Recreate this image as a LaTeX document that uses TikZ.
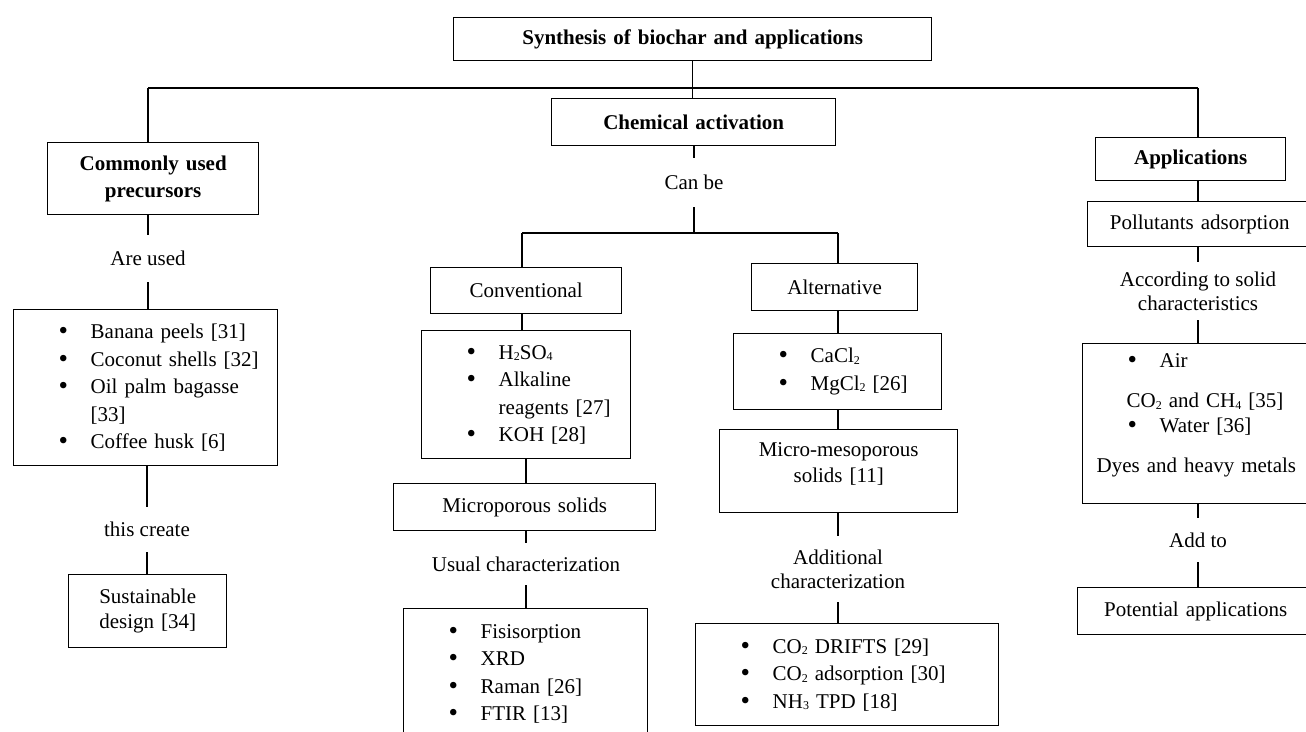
\documentclass[tikz,border=0pt]{standalone}
\usepackage{fontspec}
\setmainfont{Liberation Serif}
\newcommand\itm[1]{\hspace*{45pt}\makebox[32pt][l]{\raisebox{-1pt}{\fontsize{27}{27}\selectfont\textbullet}}#1}
\newcommand\dn[1]{\raisebox{-1.5pt}{\fontsize{12}{12}\selectfont #1}}
\tikzset{
  box/.style={draw, line width=1.4pt, inner sep=0pt, anchor=north west, align=center, font=\fontsize{21}{26}\selectfont},
  listbox/.style={box, align=left, font=\fontsize{21}{27.5}\selectfont},
  lab/.style={inner sep=0pt, align=center, font=\fontsize{21}{24}\selectfont},
  conn/.style={line width=1.4pt},
}
\begin{document}
\begin{tikzpicture}[x=1pt,y=-1pt]
\useasboundingbox[fill=white] (0,0) rectangle (1306,731);
% top level
\node[box, text width=478pt, minimum height=43pt] (top) at (453,17) {\textbf{Synthesis of biochar and applications}};
\node[box, text width=284pt, minimum height=47pt] (chem) at (551,98) {\textbf{Chemical activation}};
\node[box, text width=211pt, minimum height=72pt, font=\fontsize{21}{27}\selectfont] (common) at (47,142) {\textbf{Commonly used}\\\textbf{precursors}};
\node[box, text width=190pt, minimum height=43pt] (apps) at (1095,137) {\textbf{Applications}};
\coordinate (hL) at (148,88);
\coordinate (hR) at (1198,88);
% left column
\node[lab, minimum height=47pt] (areused) at (148,258.5) {Are used};
\node[listbox, text width=264pt, minimum height=156pt] (leftlist) at (13,309) {\itm{Banana peels [31]}\\\itm{Coconut shells [32]}\\\itm{Oil palm bagasse}\\\hspace*{77pt}[33]\\\itm{Coffee husk [6]}};
\node[lab, minimum height=45pt] (thiscreate) at (147,529.5) {this create};
\node[box, text width=158pt, minimum height=73pt, font=\fontsize{21}{25}\selectfont] (sust) at (68,574) {Sustainable\\design [34]};
% middle
\node[lab, minimum height=49pt] (canbe) at (694,182.5) {Can be};
\coordinate (bL) at (522,233);
\coordinate (bR) at (838,233);
\node[box, text width=191pt, minimum height=46pt] (conv) at (430,267) {Conventional};
\node[listbox, text width=209pt, minimum height=128pt] (convlist) at (421,330) {\itm{H\dn{2}SO\dn{4}}\\\itm{Alkaline}\\\hspace*{77pt}reagents [27]\\\itm{KOH [28]}};
\node[box, text width=262pt, minimum height=47pt] (micro) at (393,483) {Microporous solids};
\node[lab, minimum height=42pt] (usual) at (526,564) {Usual characterization};
\node[listbox, text width=244pt, minimum height=130pt] (charlist) at (403,608) {\itm{Fisisorption}\\\itm{XRD}\\\itm{Raman [26]}\\\itm{FTIR [13]}};
\node[box, text width=166pt, minimum height=47pt] (alt) at (751,263) {Alternative};
\node[listbox, text width=208pt, minimum height=76pt] (altlist) at (733,333) {\itm{CaCl\dn{2}}\\\itm{MgCl\dn{2} [26]}};
\node[box, text width=238pt, minimum height=83pt, font=\fontsize{21}{26}\selectfont] (meso) at (719,429) {Micro-mesoporous\\solids [11]\\[-8pt]\mbox{}};
\node[lab, minimum height=66pt] (addl) at (838,569) {Additional\\characterization};
\node[listbox, text width=303pt, minimum height=102pt] (addlist) at (695,623) {\itm{CO\dn{2} DRIFTS [29]}\\\itm{CO\dn{2} adsorption [30]}\\\itm{NH\dn{3} TPD [18]}};
% right column
\node[box, text width=224pt, minimum height=45pt] (poll) at (1087,201) {Pollutants adsorption};
\node[lab, minimum height=58pt] (accord) at (1198,291) {According to solid\\characteristics};
\node[listbox, text width=232pt, minimum height=160pt, font=\fontsize{21}{25}\selectfont] (applist) at (1082,343) {\itm{Air}\\[15pt]\hspace*{44pt}CO\dn{2} and CH\dn{4} [35]\\\itm{Water [36]}\\[15pt]\hspace*{14pt}Dyes and heavy metals\\[-4pt]\mbox{}};
\node[lab, minimum height=44pt] (addto) at (1198,540) {Add to};
\node[box, text width=236pt, minimum height=47pt] (potential) at (1077,587) {Potential applications};
% connectors
\draw[conn] (top.south) -- (top.south |- chem.north);
\draw[conn] (hL) -- (hR);
\draw[conn] (hL) -- (hL |- common.north);
\draw[conn] (hR) -- (hR |- apps.north);
\draw[conn] (areused.north |- common.south) -- (areused.north);
\draw[conn] (areused.south) -- (areused.south |- leftlist.north);
\draw[conn] (thiscreate.north |- leftlist.south) -- (thiscreate.north);
\draw[conn] (thiscreate.south) -- (thiscreate.south |- sust.north);
\draw[conn] (canbe.north |- chem.south) -- (canbe.north);
\draw[conn] (canbe.south) -- (canbe.south |- bL);
\draw[conn] (bL) -- (bR);
\draw[conn] (bL) -- (bL |- conv.north);
\draw[conn] (bL |- conv.south) -- (bL |- convlist.north);
\draw[conn] (usual.north |- convlist.south) -- (usual.north |- micro.north);
\draw[conn] (usual.north |- micro.south) -- (usual.north);
\draw[conn] (usual.south) -- (usual.south |- charlist.north);
\draw[conn] (bR) -- (bR |- alt.north);
\draw[conn] (bR |- alt.south) -- (bR |- altlist.north);
\draw[conn] (bR |- altlist.south) -- (bR |- meso.north);
\draw[conn] (addl.north |- meso.south) -- (addl.north);
\draw[conn] (addl.south) -- (addl.south |- addlist.north);
\draw[conn] (hR |- apps.south) -- (hR |- poll.north);
\draw[conn] (accord.north |- poll.south) -- (accord.north);
\draw[conn] (accord.south) -- (accord.south |- applist.north);
\draw[conn] (addto.north |- applist.south) -- (addto.north);
\draw[conn] (addto.south) -- (addto.south |- potential.north);
\end{tikzpicture}
\end{document}
